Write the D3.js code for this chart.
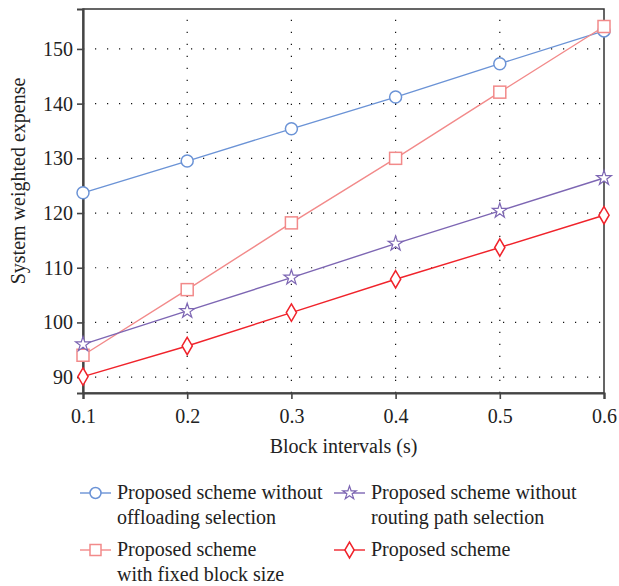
<!DOCTYPE html>
<html>
<head>
<meta charset="utf-8">
<title>System weighted expense vs block intervals</title>
<style>
  body { margin: 0; background: #fff; }
  text { font-family: "Liberation Serif", "DejaVu Serif", serif; fill: #222; }
</style>
</head>
<body>
<script src="https://cdn.jsdelivr.net/npm/d3@7"></script>
<script>
// data
var intervals = [0.1, 0.2, 0.3, 0.4, 0.5, 0.6];
var noOffload = [123.7, 129.5, 135.4, 141.2, 147.3, 153.3];
var fixedBlock = [94.0, 106.0, 118.2, 130.0, 142.1, 154.1];
var noRouting = [96.0, 102.1, 108.2, 114.4, 120.4, 126.4];
var proposed = [90.1, 95.7, 101.8, 107.9, 113.7, 119.6];
var yTicks = [90, 100, 110, 120, 130, 140, 150];
var xTicks = [0.1, 0.2, 0.3, 0.4, 0.5, 0.6];

var series = [
  {name: ["Proposed scheme without", "offloading selection"], values: noOffload, color: "#6b93d6", shape: "circle"},
  {name: ["Proposed scheme", "with fixed block size"], values: fixedBlock, color: "#f28a8a", shape: "square"},
  {name: ["Proposed scheme without", "routing path selection"], values: noRouting, color: "#7d66b3", shape: "star"},
  {name: ["Proposed scheme"], values: proposed, color: "#f0232b", shape: "diamond"}
];

var margin = {top: 9, right: 15, bottom: 193, left: 83};
var width = 619 - margin.left - margin.right;
var height = 586 - margin.top - margin.bottom;

var svg = d3.select("body").append("svg")
    .attr("width", 619)
    .attr("height", 586);
var g = svg.append("g")
    .attr("transform", "translate(" + margin.left + "," + margin.top + ")");

var x = d3.scaleLinear().domain([0.1, 0.6]).range([0, width]);
var y = d3.scaleLinear().domain([87.1, 157.3]).range([height, 0]);

// dotted grid
g.append("g").selectAll("line").data(yTicks).enter().append("line")
    .attr("x1", 0).attr("x2", width)
    .attr("y1", function(d) { return y(d); }).attr("y2", function(d) { return y(d); })
    .attr("stroke", "#111").attr("stroke-width", 1.2)
    .attr("stroke-dasharray", "1.2,10.8");
g.append("g").selectAll("line").data(xTicks.slice(1, 5)).enter().append("line")
    .attr("y1", height).attr("y2", 0)
    .attr("x1", function(d) { return x(d); }).attr("x2", function(d) { return x(d); })
    .attr("stroke", "#111").attr("stroke-width", 1.2)
    .attr("stroke-dasharray", "1.2,10.8");

// frame
g.append("rect")
    .attr("width", width).attr("height", height)
    .attr("fill", "none").attr("stroke", "#333").attr("stroke-width", 1.5);

// axes
var xAxis = d3.axisBottom(x).tickValues(xTicks).tickSize(6).tickPadding(10)
    .tickFormat(d3.format(".1f"));
var gx = g.append("g").attr("transform", "translate(0," + height + ")").call(xAxis);
var yAxis = d3.axisLeft(y).tickValues(yTicks).tickSize(6).tickPadding(4);
var gy = g.append("g").call(yAxis);
[gx, gy].forEach(function(a) {
  a.select(".domain").attr("stroke", "#444").attr("stroke-width", 2.2);
  a.selectAll(".tick line").attr("stroke", "#444").attr("stroke-width", 1.6);
  a.selectAll(".tick text").style("font-family", "Liberation Serif, serif")
    .style("font-size", "20px").attr("fill", "#222");
});

// axis titles
svg.append("text")
    .attr("x", margin.left + width / 2).attr("y", 453)
    .attr("text-anchor", "middle").style("font-size", "20px")
    .text("Block intervals (s)");
svg.append("text")
    .attr("transform", "translate(25," + 181 + ") rotate(-90)")
    .attr("text-anchor", "middle").style("font-size", "20px")
    .text("System weighted expense");

function drawMarker(sel, shape, color, cx, cy, r) {
  if (shape === "circle") {
    sel.append("circle").attr("cx", cx).attr("cy", cy).attr("r", r)
      .attr("fill", "#fff").attr("stroke", color).attr("stroke-width", 1.5);
  } else if (shape === "square") {
    sel.append("rect").attr("x", cx - r).attr("y", cy - r)
      .attr("width", 2 * r).attr("height", 2 * r)
      .attr("fill", "#fff").attr("stroke", color).attr("stroke-width", 1.5);
  } else if (shape === "diamond") {
    sel.append("path")
      .attr("d", "M" + cx + "," + (cy - r * 1.45) + "L" + (cx + r * 0.85) + "," + cy +
           "L" + cx + "," + (cy + r * 1.45) + "L" + (cx - r * 0.85) + "," + cy + "Z")
      .attr("fill", "#fff").attr("stroke", color).attr("stroke-width", 1.5);
  } else {
    sel.append("path")
      .attr("d", d3.symbol().type(d3.symbolStar).size(r * r * 1.9)())
      .attr("transform", "translate(" + cx + "," + cy + ")")
      .attr("fill", "#fff").attr("stroke", color).attr("stroke-width", 1.2);
  }
}

var line = d3.line()
    .x(function(d, i) { return x(intervals[i]); })
    .y(function(d) { return y(d); });

var plot = g.append("g");
series.forEach(function(s) {
  plot.append("path").datum(s.values)
      .attr("d", line).attr("fill", "none")
      .attr("stroke", s.color).attr("stroke-width", 1.4);
});
series.forEach(function(s) {
  var mg = plot.append("g");
  s.values.forEach(function(v, i) {
    drawMarker(mg, s.shape, s.color, x(intervals[i]), y(v), 6);
  });
});

// legend
var legendPos = [
  {x: 80, y: 493}, {x: 80, y: 550}, {x: 334, y: 493}, {x: 334, y: 550}
];
series.forEach(function(s, i) {
  var p = legendPos[i];
  var lg = svg.append("g");
  lg.append("line").attr("x1", p.x).attr("x2", p.x + 31)
      .attr("y1", p.y).attr("y2", p.y)
      .attr("stroke", s.color).attr("stroke-width", 1.4);
  drawMarker(lg, s.shape, s.color, p.x + 15.5, p.y, 5.5);
  s.name.forEach(function(t, j) {
    lg.append("text")
        .attr("x", p.x + 37).attr("y", p.y + 6 + j * 24.5)
        .style("font-size", "20px")
        .text(t);
  });
});
</script>
</body>
</html>
